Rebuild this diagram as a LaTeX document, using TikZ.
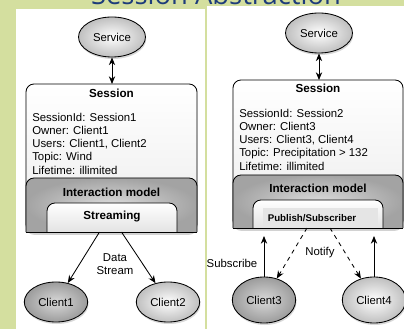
\documentclass[tikz,border=0pt]{standalone}
\usepackage{fontspec}
\setmainfont{Liberation Sans}
\newfontfamily\titlefont{Open Sans}
\usetikzlibrary{shapes.geometric,shadows,positioning,arrows.meta}
\definecolor{slidegreen}{HTML}{D4DF9F}
\definecolor{titleblue}{HTML}{1D3C7A}

\begin{document}
\begin{tikzpicture}[x=0.025cm,y=-0.025cm]

  % Definitions
  \tikzstyle{service} = [ellipse, draw=black, line width=0.6pt, inner color=white, outer color=gray!50, minimum width=1.55cm, minimum height=1.0cm, drop shadow={opacity=0.3, shadow xshift=0.02cm, shadow yshift=-0.05cm}, font=\fontsize{8.1}{9.4}\selectfont]
  \tikzstyle{client} = [service, minimum width=1.5cm, minimum height=1.0cm]
  \tikzstyle{darkclient} = [client, inner color=gray!30, outer color=gray!78]
  \tikzstyle{session} = [rectangle, rounded corners=0.2cm, draw=black, line width=0.6pt, top color=white, bottom color=gray!15, inner sep=0pt, outer sep=0pt, drop shadow={opacity=0.35, shadow xshift=0cm, shadow yshift=-0.07cm}]
  \tikzstyle{area} = [rectangle, inner sep=0pt, outer sep=0pt]
  \tikzstyle{imodel} = [draw=black, line width=0.6pt, inner color=gray!28, outer color=gray!72]
  \tikzstyle{inbox} = [draw=black, line width=0.6pt, top color=white, bottom color=gray!22]
  \tikzstyle{heading} = [font=\fontsize{8.3}{9.4}\selectfont\bfseries]
  \tikzstyle{info} = [align=left, inner sep=0pt, anchor=north west, font=\fontsize{8.1}{9.45}\selectfont]
  \tikzstyle{txt} = [font=\fontsize{8.1}{9.4}\selectfont]
  \tikzstyle{arrow} = [line width=0.6pt,->,>={Stealth[length=5.5pt,width=4.5pt]}]

  \useasboundingbox (0,0) rectangle (404,329);
  \clip (0,0) rectangle (404,329);
  \fill[slidegreen] (0,0) rectangle (404,329);
  \fill[white] (16,9) rectangle (205,329);
  \fill[white] (207,6) rectangle (404,329);
  \node (title) [anchor=base, text=titleblue, font=\titlefont\fontsize{19.5}{20}\selectfont] at (216,5) {Session Abstraction};

  % left: streaming session
  \node (svc1) [service] at (112,37) {Service};
  \node (sess1) [session, minimum width=4.275cm, minimum height=3.7cm] at (111.5,158) {};
  \node (sess1t) [heading] at (111.5,93) {Session};
  \node (info1) [info] at (32,112.5) {SessionId: Session1\\Owner: Client1\\Users: Client1, Client2\\Topic: Wind\\Lifetime: illimited};
  \node (im1) [area, minimum width=4.275cm, minimum height=1.35cm] at (111.5,205) {};
  \path [imodel, rounded corners=0.2cm] (im1.south west) |- (im1.north) -| (im1.south east);
  \node (im1t) [heading] at (111.5,192) {Interaction model};
  \node (strm1) [area, minimum width=3.25cm, minimum height=0.725cm] at (112,217.5) {};
  \path [inbox, rounded corners=0.2cm] (strm1.south west) |- (strm1.north) -| (strm1.south east);
  \draw [line width=0.6pt] (im1.south west) -- (im1.south east);
  \node (strm1t) [heading] at (112,217) {Streaming};
  \node (cl1) [darkclient] at (56,302) {Client1};
  \node (cl2) [client] at (168,302) {Client2};

  \draw [arrow, <->] (svc1.south) -- (svc1.south |- sess1.north);
  \draw [arrow] ([xshift=-0.3cm]im1.south) -- (cl1);
  \draw [arrow] ([xshift=0.25cm]im1.south) -- (cl2);
  \node (ds) [txt, align=center] at (115,264) {Data\\Stream};

  % right: publish/subscribe session
  \node (svc2) [service] at (319,33) {Service};
  \node (sess2) [session, minimum width=4.25cm, minimum height=3.7cm] at (318,154) {};
  \node (sess2t) [heading] at (318,88) {Session};
  \node (info2) [info] at (239,108.5) {SessionId: Session2\\Owner: Client3\\Users: Client3, Client4\\Topic: Precipitation > 132\\Lifetime: illimited};
  \node (im2) [area, minimum width=4.25cm, minimum height=1.325cm] at (318,201.5) {};
  \path [imodel, rounded corners=0.2cm] (im2.south west) |- (im2.north) -| (im2.south east);
  \node (im2t) [heading] at (318,188) {Interaction model};
  \node (pub2) [area, minimum width=3.25cm, minimum height=0.7cm] at (318,214) {};
  \path [inbox, rounded corners=0.2cm] (pub2.south west) |- (pub2.north) -| (pub2.south east);
  \fill [gray!20] (263,208) rectangle (378,228);
  \draw [line width=0.6pt] (im2.south west) -- (im2.south east);
  \node (pub2t) [heading, font=\fontsize{6.9}{8}\selectfont\bfseries] at (312,218) {Publish/Subscriber};
  \node (cl3) [darkclient, minimum height=1.15cm] at (264,300) {Client3};
  \node (cl4) [client, minimum height=1.15cm] at (374,300) {Client4};

  \draw [arrow, <->] (svc2.south) -- (svc2.south |- sess2.north);
  \draw [arrow, shorten >=0.2cm] (cl3) -- (cl3 |- im2.south);
  \draw [arrow, shorten >=0.2cm] (cl4) -- (cl4 |- im2.south);
  \draw [arrow, dashed] ([xshift=-0.275cm]im2.south) -- (cl3);
  \draw [arrow, dashed] ([xshift=0.3cm]im2.south) -- (cl4);
  \node (subscr) [txt] at (232,263) {Subscribe};
  \node (notify) [txt] at (320,253) {Notify};

\end{tikzpicture}
\end{document}
